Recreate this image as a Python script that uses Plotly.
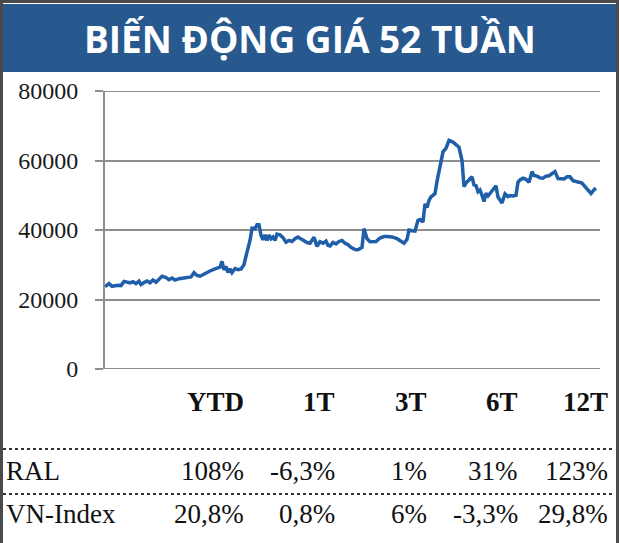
import plotly.graph_objects as go

W, H = 620, 543

# ---------------- data ----------------
sessions = [0, 2, 4, 7, 10, 13, 16, 19, 22, 25, 28, 31, 34, 36, 39, 42, 45, 48, 51, 54,
            57, 61, 64, 67, 70, 74, 78, 82, 86, 89, 92, 95, 100, 105, 110, 115, 117, 119,
            121, 123, 125, 127, 130, 133, 136, 139, 141, 143, 145, 147, 150, 152, 154, 156,
            158, 160, 162, 164, 166, 168, 170, 172, 175, 178, 181, 184, 187, 190, 193, 195,
            198, 202, 205, 209, 212, 215, 218, 221, 223, 225, 228, 231, 234, 237, 240, 243,
            246, 250, 253, 257, 259, 262, 265, 267, 271, 275, 279, 282, 287, 292, 296, 299,
            302, 304, 307, 310, 313, 315, 318, 320, 322, 324, 326, 330, 332, 335, 338, 341,
            344, 348, 351, 354, 357, 359, 361, 364, 367, 369, 371, 373, 375, 377, 379, 381,
            383, 385, 388, 391, 393, 395, 397, 400, 403, 405, 408, 411, 413, 415, 418, 421,
            424, 427, 429, 432, 435, 438, 441, 444, 447, 450, 453, 456, 459, 462, 465, 468,
            471, 474, 477, 480, 483, 486, 489, 491, 493]
prices = [23700, 24300, 24600, 23800, 24000, 24100, 24000, 25200, 25000, 24800, 25100, 24600,
          25300, 24300, 24900, 25300, 24800, 25600, 25000, 26000, 26700, 26300, 25700, 26200,
          25600, 26000, 26200, 26300, 26500, 27700, 26900, 26700, 27500, 28200, 28800, 29300,
          31000, 28500, 29500, 27800, 28800, 27700, 28900, 28600, 28800, 30000, 32500, 34500,
          37000, 40500, 40400, 41500, 41500, 38500, 37200, 38600, 37000, 38500, 37500, 38000,
          37000, 38800, 38600, 37800, 36500, 37000, 36700, 37500, 38000, 37600, 37000, 36400,
          36200, 37900, 35300, 36600, 36200, 36800, 35600, 35400, 36400, 36000, 36700, 37000,
          36200, 35800, 35000, 34400, 34300, 35000, 40400, 37500, 36600, 36700, 36700, 37700,
          38100, 38100, 38000, 37500, 36800, 36200, 37300, 40000, 39800, 39700, 42800, 43000,
          42300, 47500, 46500, 48500, 49500, 50500, 54000, 57700, 62500, 63500, 65800, 65300,
          64500, 63800, 60000, 52500, 53500, 54500, 55300, 53000, 52800, 51000, 51500, 50000,
          48200, 50600, 49800, 50500, 51800, 52700, 49500, 48800, 47800, 50400, 49600, 49900,
          49800, 50000, 53800, 54400, 54900, 54600, 53700, 56800, 55700, 55500, 55000, 54900,
          55500, 55600, 56200, 56800, 54800, 54700, 54700, 55300, 55300, 54200, 53900, 53700,
          53500, 52500, 51400, 50500, 51600, 52000]
n = min(len(sessions), len(prices))
sessions, prices = sessions[:n], prices[:n]

y_ticks = [0, 20000, 40000, 60000, 80000]
title_text = "BIẾN ĐỘNG GIÁ 52 TUẦN"
periods = ["YTD", "1T", "3T", "6T", "12T"]
row_names = ["RAL", "VN-Index"]
ral_values = ["108%", "-6,3%", "1%", "31%", "123%"]
vnindex_values = ["20,8%", "0,8%", "6%", "-3,3%", "29,8%"]

# ---------------- layout helpers ----------------
def px(x):
    return x / W

def py(y):
    return 1 - y / H

fig = go.Figure()
fig.add_trace(go.Scatter(x=sessions, y=prices, mode="lines",
                         line=dict(color="#1F5EA8", width=3.5), hoverinfo="skip"))

serif = "Liberation Serif, Times New Roman, serif"
gray = "#8E8E8E"

fig.update_layout(
    template="none",
    font=dict(family=serif, color="#111"),
    width=W, height=H, margin=dict(l=0, r=0, t=0, b=0, autoexpand=False),
    paper_bgcolor="white", plot_bgcolor="white", showlegend=False,
    xaxis=dict(domain=[px(105), px(600)], range=[0, 495], showgrid=False,
               zeroline=False, showticklabels=False, showline=False, ticks="",
               automargin=False),
    yaxis=dict(domain=[py(369), py(91)], range=[0, 80000], tickvals=y_ticks,
               ticktext=[str(v) for v in y_ticks], showgrid=True, gridcolor=gray,
               gridwidth=2, zeroline=False, showline=True, linecolor=gray, linewidth=2,
               ticks="outside", ticklen=8, tickwidth=2, tickcolor=gray,
               ticklabelstandoff=12, automargin=False,
               tickfont=dict(family=serif, size=24, color="#1a1a1a")),
)

shapes = []
for v in [0, 80000]:
    shapes.append(dict(type="line", xref="paper", yref="y", x0=px(105), x1=px(600),
                       y0=v, y1=v, line=dict(color=gray, width=2)))
# outer frame
shapes.append(dict(type="rect", xref="paper", yref="paper", x0=px(1.5), x1=px(617.5),
                   y0=py(560), y1=py(1.5), line=dict(color="#4a4a4a", width=3),
                   fillcolor="rgba(0,0,0,0)", layer="above"))
# title band
shapes.append(dict(type="rect", xref="paper", yref="paper", x0=px(3), x1=px(616),
                   y0=py(72), y1=py(4), line=dict(width=0), fillcolor="#27598F",
                   layer="below"))
# dotted separators
for yy in [449, 494]:
    shapes.append(dict(type="line", xref="paper", yref="paper", x0=px(3), x1=px(613),
                       y0=py(yy), y1=py(yy), line=dict(color="#333333", width=2, dash="dot")))

annotations = [dict(text=f"<b>{title_text}</b>", xref="paper", yref="paper",
                    x=px(310), y=py(38), xanchor="center", yanchor="middle",
                    showarrow=False, font=dict(family="Open Sans", size=37, color="white"))]

col_right = [246, 337, 429, 520, 610]
for label, xr in zip(periods, col_right):
    annotations.append(dict(text=f"<b>{label}</b>", xref="paper", yref="paper",
                            x=px(xr), y=py(402), xanchor="right", yanchor="middle",
                            showarrow=False, font=dict(family=serif, size=27, color="#111")))
for name, vals, yc in [(row_names[0], ral_values, 471), (row_names[1], vnindex_values, 514)]:
    annotations.append(dict(text=name, xref="paper", yref="paper", x=px(4), y=py(yc),
                            xanchor="left", yanchor="middle", showarrow=False,
                            font=dict(family=serif, size=27, color="#111")))
    for v, xr in zip(vals, col_right):
        annotations.append(dict(text=v, xref="paper", yref="paper", x=px(xr), y=py(yc),
                                xanchor="right", yanchor="middle", showarrow=False,
                                font=dict(family=serif, size=27, color="#111")))

fig.update_layout(shapes=shapes, annotations=annotations)
fig.write_html("out.html")
